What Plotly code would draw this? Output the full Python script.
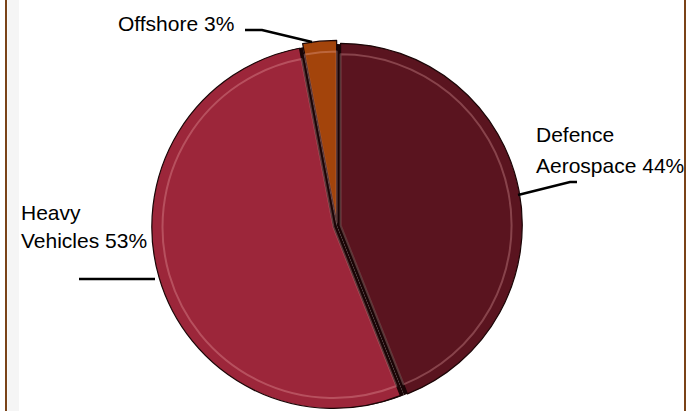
import plotly.graph_objects as go

labels = ["Defence Aerospace", "Heavy Vehicles", "Offshore"]
values = [44, 53, 3]
colors = ["#5A141F", "#9C263A", "#A3440B"]
label_lines = [["Defence", "Aerospace 44%"], ["Heavy", "Vehicles 53%"], ["Offshore 3%"]]

W, H = 686, 411
cx, cy, r, pull = 337, 226, 182, 0.02


def domain(cx, cy, r, p):
    s = 2 * r * (1 + p)
    return dict(x=[(cx - s / 2) / W, (cx + s / 2) / W],
                y=[max(0, 1 - (cy + s / 2) / H), min(1, 1 - (cy - s / 2) / H)])


def px(x):
    return x / W


def py(y):
    return 1 - y / H


fig = go.Figure()
# dark underlay that shows through the gaps between exploded slices
fig.add_trace(go.Pie(
    labels=labels, values=values, sort=False, direction="clockwise", rotation=0,
    marker=dict(colors=["#1a0506"] * 3, line=dict(width=0)),
    textinfo="none", hoverinfo="skip", domain=domain(cx, cy, r, 0), showlegend=False,
))
fig.add_trace(go.Pie(
    labels=labels, values=values, sort=False, direction="clockwise", rotation=0,
    marker=dict(colors=colors, line=dict(color="#1a0506", width=1.2)),
    pull=[pull] * 3, textinfo="none", hoverinfo="label+percent",
    domain=domain(cx, cy, r, pull), showlegend=False,
))
# inner bevel highlight
ri = r - 11
pi = pull * r / ri
fig.add_trace(go.Pie(
    labels=labels, values=values, sort=False, direction="clockwise", rotation=0,
    marker=dict(colors=["rgba(0,0,0,0)"] * 3, line=dict(color="rgba(255,190,190,0.28)", width=2)),
    pull=[pi] * 3, textinfo="none", hoverinfo="skip",
    domain=domain(cx, cy, ri, pi), showlegend=False,
))

font = dict(family="Liberation Sans, Arial, sans-serif", size=21, color="#000000")
text_pos = [[(534, 135), (534, 165)], [(19, 212), (19, 241)], [(116, 23)]]
annotations = []
for lines, poss in zip(label_lines, text_pos):
    for t, (x, y) in zip(lines, poss):
        annotations.append(dict(text=t, x=px(x), y=py(y), xref="paper", yref="paper",
                                xanchor="left", yanchor="middle", showarrow=False, font=font))

leaders = [
    [(518, 195), (570, 182), (577, 182)],
    [(155, 279), (79, 279)],
    [(312, 42), (262, 30), (245, 30)],
]
shapes = []
for pts in leaders:
    path = "M " + " L ".join(f"{px(x)} {py(y)}" for x, y in pts)
    shapes.append(dict(type="path", path=path, xref="paper", yref="paper",
                       line=dict(color="#000000", width=2.5)))
# frame
shapes.append(dict(type="rect", x0=px(7.5), x1=px(19), y0=0, y1=1, xref="paper", yref="paper",
                   fillcolor="rgba(0,0,0,0.04)", line=dict(width=0), layer="below"))
shapes.append(dict(type="line", x0=px(6), x1=px(6), y0=0, y1=1, xref="paper", yref="paper",
                   line=dict(color="#7A4318", width=2)))
shapes.append(dict(type="line", x0=px(685), x1=px(685), y0=0, y1=1, xref="paper", yref="paper",
                   line=dict(color="#7A4318", width=2)))

fig.update_layout(width=W, height=H, margin=dict(l=0, r=0, t=0, b=0),
                  paper_bgcolor="white", plot_bgcolor="white",
                  annotations=annotations, shapes=shapes)
fig.write_html("out.html", config={"displayModeBar": False},
               post_script="document.body.style.margin='0px';")
